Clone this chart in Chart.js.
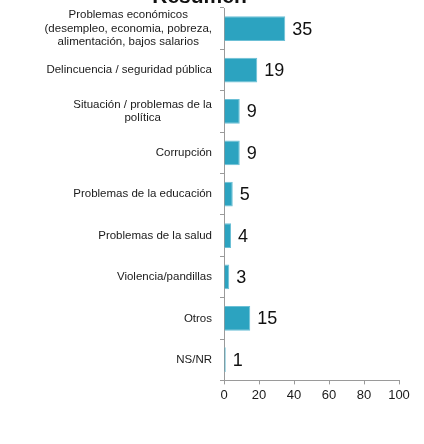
<!DOCTYPE html>
<html>
<head>
<meta charset="utf-8">
<script src="https://cdn.jsdelivr.net/npm/chart.js@4/dist/chart.umd.min.js"></script>
<style>
  html, body { margin: 0; padding: 0; background: #fff; overflow: hidden; }
  #wrap { position: relative; width: 424px; height: 444px; overflow: hidden; }
  #chart { position: absolute; left: 0; top: -13px; }
  #info { position: absolute; left: 0; top: 420px; font: 10px sans-serif; color: #fff; }
</style>
</head>
<body>
<div id="wrap"><canvas id="chart" width="424" height="457" role="img"></canvas><div id="info"></div></div>
<script>
// data
const categories = [
  ['Problemas económicos', '(desempleo, economia, pobreza,', 'alimentación, bajos salarios'],
  'Delincuencia / seguridad pública',
  ['Situación / problemas de la', 'política'],
  'Corrupción',
  'Problemas de la educación',
  'Problemas de la salud',
  'Violencia/pandillas',
  'Otros',
  'NS/NR'
];
const values = [35, 19, 9, 9, 5, 4, 3, 15, 1];
const xMax = 100;
const xStep = 20;

const barColor = '#2ca3c0';
const textColor = '#1a1a1a';
const fontFamily = '"Liberation Sans", Arial, sans-serif';

// y labels: block right-aligned, lines centered inside the block (like the original)
const yLabelPlugin = {
  id: 'yLabels',
  afterDraw(chart) {
    const { ctx, chartArea } = chart;
    const scale = chart.scales.y;
    ctx.save();
    ctx.font = '11.5px ' + fontFamily;
    ctx.fillStyle = textColor;
    ctx.textAlign = 'center';
    ctx.textBaseline = 'middle';
    const lh = 13.6;
    categories.forEach((lab, i) => {
      const lines = Array.isArray(lab) ? lab : [lab];
      const maxW = Math.max(...lines.map(l => ctx.measureText(l).width));
      const cx = chartArea.left - 12 - maxW / 2;
      const y0 = scale.getPixelForValue(i) - (lines.length - 1) * lh / 2;
      lines.forEach((l, j) => ctx.fillText(l, cx, y0 + j * lh));
    });
    ctx.restore();
  }
};

const valueLabelPlugin = {
  id: 'valueLabels',
  afterDatasetsDraw(chart) {
    const { ctx } = chart;
    const meta = chart.getDatasetMeta(0);
    ctx.save();
    ctx.font = '18px ' + fontFamily;
    ctx.fillStyle = '#111';
    ctx.textAlign = 'left';
    ctx.textBaseline = 'middle';
    meta.data.forEach((bar, i) => {
      ctx.fillText(String(values[i]), bar.x + 7, bar.y + 1);
    });
    ctx.restore();
  }
};

const chart = new Chart(document.getElementById('chart'), {
  type: 'bar',
  data: {
    labels: categories.map(c => Array.isArray(c) ? c.join(' ') : c),
    datasets: [{
      data: values,
      backgroundColor: barColor,
      borderColor: '#6cc0d6',
      borderWidth: 1,
      borderSkipped: 'left',
      barPercentage: 0.6,
      categoryPercentage: 1
    }]
  },
  options: {
    indexAxis: 'y',
    responsive: false,
    animation: false,
    layout: { padding: { left: 0, right: 25, top: 0, bottom: 38 } },
    plugins: {
      legend: { display: false },
      tooltip: { enabled: false },
      title: {
        display: true,
        text: 'Resumen',
        color: '#111',
        font: { family: fontFamily, size: 21, weight: 'bold', lineHeight: 1 },
        padding: 0
      }
    },
    scales: {
      x: {
        min: 0,
        max: xMax,
        ticks: {
          stepSize: xStep,
          color: textColor,
          padding: 3,
          maxRotation: 0,
          font: { family: fontFamily, size: 13 }
        },
        grid: { drawOnChartArea: false, drawTicks: true, tickLength: 4, color: '#9a9a9a' },
        border: { color: '#9a9a9a', width: 1 }
      },
      y: {
        ticks: { display: false },
        afterFit: s => { s.width = 224; },
        grid: { drawOnChartArea: false, drawTicks: true, tickLength: 4, offset: true, color: '#9a9a9a' },
        border: { color: '#9a9a9a', width: 1 }
      }
    }
  },
  plugins: [yLabelPlugin, valueLabelPlugin]
});

// short text description for screen readers
const summary = 'Resumen: ' + categories.map((c, i) =>
  (Array.isArray(c) ? c.join(' ') : c) + ' ' + values[i]).join('; ');
chart.canvas.setAttribute('aria-label', summary);
document.getElementById('info').textContent = ' ';
</script>
</body>
</html>
